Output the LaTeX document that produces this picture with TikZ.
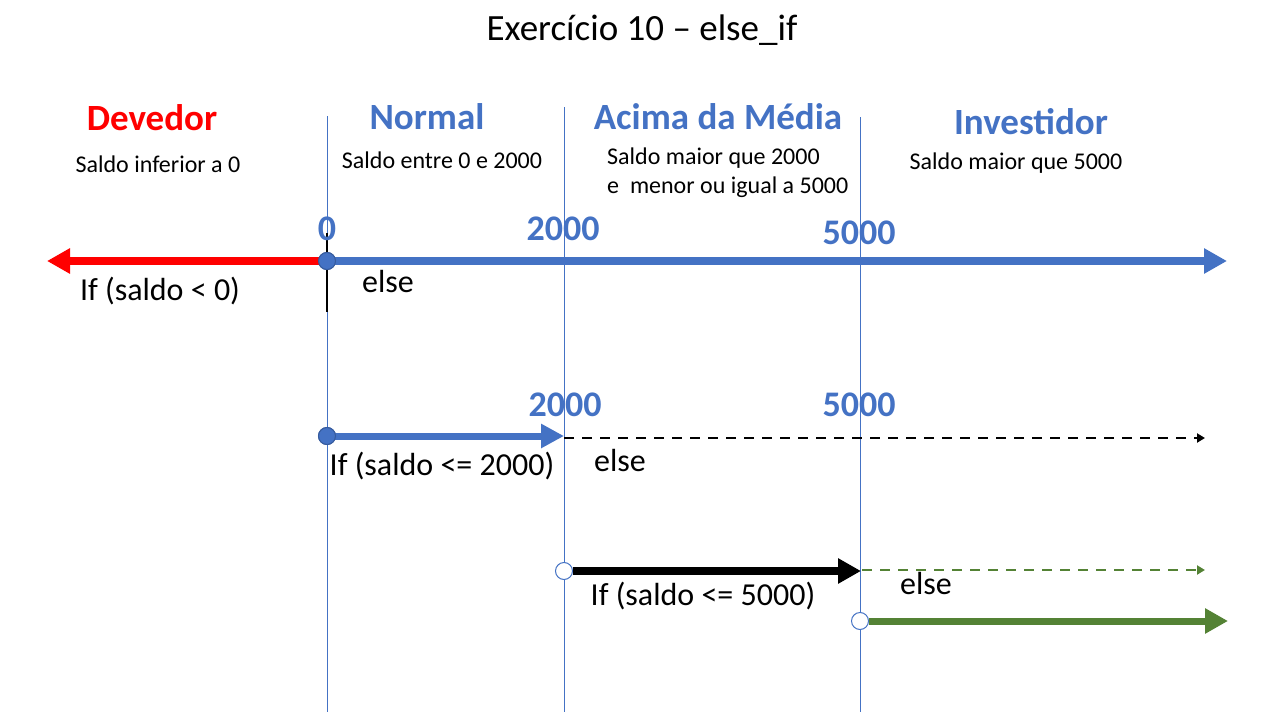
\documentclass[tikz,border=0pt]{standalone}
\usepackage{fontspec}
\setmainfont{Carlito}
\usetikzlibrary{arrows.meta}
\definecolor{obue}{HTML}{4472C4}
\definecolor{ored}{HTML}{FF0000}
\definecolor{ogreen}{HTML}{548235}
\tikzset{
  divider/.style={draw=obue, line width=0.9pt},
  heading/.style={font=\fontsize{37}{40}\selectfont\bfseries, inner sep=0pt},
  desc/.style={font=\fontsize{24}{27}\selectfont, inner sep=0pt},
  cond/.style={font=\fontsize{32}{35}\selectfont, inner sep=0pt},
  mark label/.style={font=\fontsize{36}{40}\selectfont\bfseries, text=obue, inner sep=0pt},
  fat arrow/.style={line width=8pt, -{Triangle[length=23pt,width=24pt]}},
  thin dash/.style={line width=2.6pt, dash pattern=on 10pt off 8pt, -{Triangle[length=8pt,width=9pt]}},
  dot/.style={circle, minimum size=17pt, inner sep=0pt, line width=1pt},
}
\begin{document}
\begin{tikzpicture}[x=1pt,y=-1pt]
\useasboundingbox (0,0) rectangle (1280,720);

% title
\node[font=\fontsize{37}{40}\selectfont, inner sep=0pt] (title) at (642,30) {Exercício 10 – else\_if};

% range dividers
\coordinate (d0t) at (327,116);  \coordinate (d0b) at (327,712);
\coordinate (d1t) at (564,107);  \coordinate (d1b) at (564,712);
\coordinate (d2t) at (860,117);  \coordinate (d2b) at (860,712);
\draw[divider] (d0t) -- (d0b);
\draw[divider] (d1t) -- (d1b);
\draw[divider] (d2t) -- (d2b);
\coordinate (z0t) at (327,233); \coordinate (z0b) at (327,312);
\draw[black, line width=1.6pt] (z0t) -- (z0b);

% category headings
\node[heading, text=ored] (hdev) at (152,118) {Devedor};
\node[heading, text=obue] (hnor) at (427,117) {Normal};
\node[heading, text=obue] (hac) at (718,117) {Acima da Média};
\node[heading, text=obue] (hinv) at (1031,122) {Investidor};

\node[desc] (sdev) at (158,164) {Saldo inferior a 0};
\node[desc] (snor) at (442,160) {Saldo entre 0 e 2000};
\node[desc, anchor=west] (sac1) at (607,158) {Saldo maior que 2000};
\node[desc, anchor=west] (sac2) at (607,187) {e\ \ menor ou igual a 5000};
\node[desc] (sinv) at (1016,163) {Saldo maior que 5000};

% first line: the whole axis
\node[dot, fill=obue, draw=obue!80!black] (p0) at (327,261) {};
\coordinate (leftend) at (47,261);
\coordinate (rightend) at (1227,261);
\draw[fat arrow, ored] (p0.center) -- (leftend);
\draw[fat arrow, obue] (p0.center) -- (rightend);
\node[dot, fill=obue, draw=obue!80!black] at (p0) {};
\node[mark label] (m0) at (327,229) {0};
\node[mark label] (m1) at (563,229) {2000};
\node[mark label] (m2) at (859,233) {5000};
\node[cond] (cneg) at (160,291) {If (saldo < 0)};
\node[cond] (else1) at (388,282) {else};

% second line
\node[dot, fill=obue, draw=obue!80!black] (q0) at (327,436) {};
\coordinate (q1) at (564,436);
\coordinate (q2) at (1205,438);
\coordinate (q1d) at (564,438);
\draw[line width=7pt, obue, -{Triangle[length=23pt,width=23pt]}] (q0.center) -- (q1);
\node[dot, fill=obue, draw=obue!80!black] at (q0) {};
\draw[thin dash, black] (q1d) -- (q2);
\node[mark label] (n1) at (565,405) {2000};
\node[mark label] (n2) at (859,405) {5000};
\node[cond] (c2000) at (442,466) {If (saldo <= 2000)};
\node[cond] (else2) at (620,461) {else};

% third line
\node[dot, fill=white, draw=obue] (r0) at (564,571) {};
\coordinate (r1) at (861,571);
\coordinate (r1d) at (862,570);
\coordinate (r2) at (1205,570);
\draw[fat arrow, black] (r0.east) -- (r1);
\draw[line width=2.6pt, ogreen, dash pattern=on 10pt off 8pt, -{Triangle[length=8pt,width=9pt]}] (r1d) -- (r2);
\node[cond] (c5000) at (703,596) {If (saldo <= 5000)};
\node[cond] (else3) at (926,584) {else};

% fourth line
\node[dot, fill=white, draw=obue] (s0) at (860,621) {};
\coordinate (s1) at (1228,621);
\draw[line width=7pt, ogreen, -{Triangle[length=23pt,width=24pt]}] (s0.east) -- (s1);
\end{tikzpicture}
\end{document}
